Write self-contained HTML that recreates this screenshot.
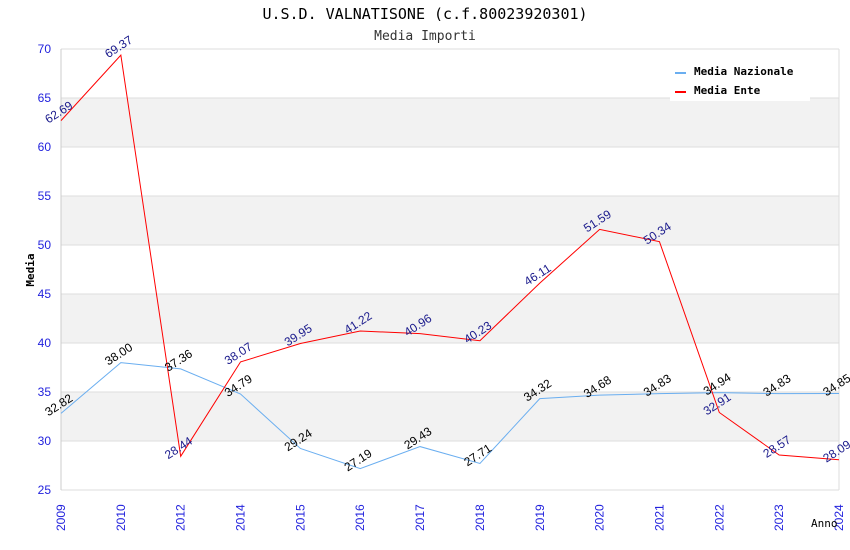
<!DOCTYPE html>
<html><head><meta charset="utf-8"><style>
body{margin:0;background:#fff;}
svg{display:block;font-family:"Liberation Sans",sans-serif;}
.mono{font-family:"DejaVu Sans Mono","Liberation Mono",monospace;}
</style></head><body>
<svg id="c" width="850" height="550">
<text class="mono" x="425" y="19" text-anchor="middle" font-size="15" fill="#000">U.S.D. VALNATISONE (c.f.80023920301)</text>
<text class="mono" x="425" y="40" text-anchor="middle" font-size="13" fill="#333">Media Importi</text>
<g id="bands"></g><g id="grid"></g><g id="axes"></g><g id="lines"></g><g id="labels"></g>
<text class="mono" x="34" y="270" text-anchor="middle" font-size="11" font-weight="bold" transform="rotate(-90 34 270)">Media</text>
<text class="mono" x="811" y="527" font-size="11" fill="#000">Anno</text>
<g>
<rect x="670" y="55" width="140" height="46" fill="#fff"/>
<line x1="675" y1="73" x2="686" y2="73" stroke="#6aaef0" stroke-width="2"/>
<text class="mono" x="694" y="75" font-size="11" font-weight="bold">Media Nazionale</text>
<line x1="675" y1="92" x2="686" y2="92" stroke="#f00" stroke-width="2"/>
<text class="mono" x="694" y="94" font-size="11" font-weight="bold">Media Ente</text>
</g>
</svg>
<script>
const years=["2009","2010","2012","2014","2015","2016","2017","2018","2019","2020","2021","2022","2023","2024"];
const nazionale=[32.82,38.00,37.36,34.79,29.24,27.19,29.43,27.71,34.32,34.68,34.83,34.94,34.83,34.85];
const ente=[62.69,69.37,28.44,38.07,39.95,41.22,40.96,40.23,46.11,51.59,50.34,32.91,28.57,28.09];
const yTicks=[25,30,35,40,45,50,55,60,65,70];
const L=61,R=839,T=49,B=490,ymin=25,ymax=70;
const NS="http://www.w3.org/2000/svg";
const xs=i=>L+i*(R-L)/(years.length-1);
const ys=v=>B-(v-ymin)/(ymax-ymin)*(B-T);
function mk(tag,attrs,parent,txt){const e=document.createElementNS(NS,tag);for(const k in attrs)e.setAttribute(k,attrs[k]);if(txt!=null)e.textContent=txt;document.getElementById(parent).appendChild(e);return e;}
for(let i=0;i<yTicks.length-1;i++){
  if(i%2===1){const r=mk('rect',{x:L,y:ys(yTicks[i+1]),width:R-L,height:ys(yTicks[i])-ys(yTicks[i+1]),fill:'#f2f2f2'},'bands');
  
  }
}
yTicks.forEach(t=>{
  const g=mk('line',{x1:L,x2:R,y1:ys(t),y2:ys(t),stroke:'#ddd'},'grid');
  
  
  const tx=mk('text',{x:L-10,y:ys(t)+4,'text-anchor':'end','font-size':12,fill:'#22d'},'axes',t);
  
  
});
mk('line',{x1:L,x2:L,y1:T,y2:B,stroke:'#ccc'},'axes');
mk('line',{x1:R,x2:R,y1:T,y2:B,stroke:'#ddd'},'axes');
years.forEach((y,i)=>{
  const x=xs(i);
  const tx=mk('text',{x:x+4,y:531,'text-anchor':'start','font-size':12,fill:'#22d',transform:`rotate(-90 ${x+4} 531)`},'axes',y);
  
  
});
function series(data,color,lc,name){
  const p=mk('polyline',{points:data.map((v,i)=>xs(i)+','+ys(v)).join(' '),fill:'none',stroke:color,'stroke-width':1},'lines');
  
  
  data.forEach((v,i)=>{
    const x=xs(i),y=ys(v)-5;
    const t=mk('text',{x:x,y:y,'text-anchor':'middle','font-size':12,fill:lc,transform:`rotate(-33 ${x} ${y})`},'labels',v.toFixed(2));
    
    
  });
}
series(nazionale,'#6aaef0','#000','nazionale');
series(ente,'#f00','#1a1a8c','ente');
</script>
</body></html>
